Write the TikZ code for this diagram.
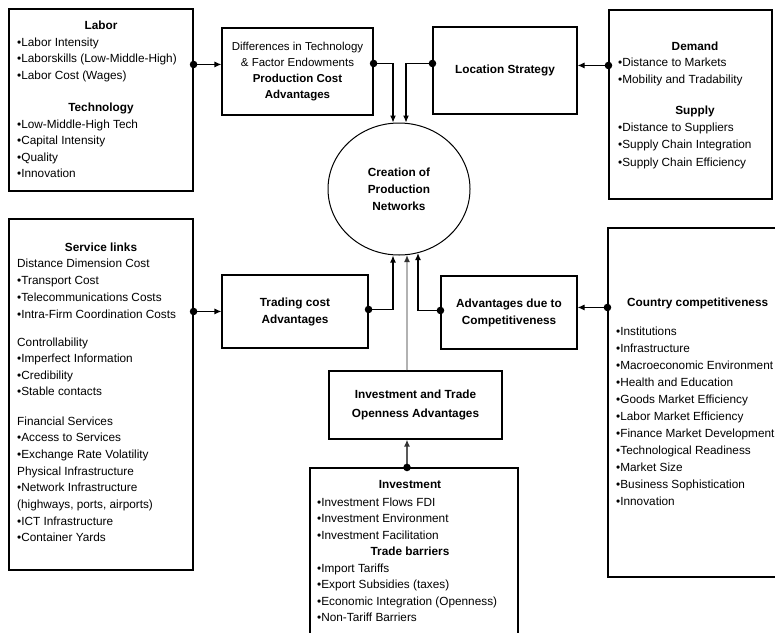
\documentclass[tikz,border=0pt]{standalone}
\usepackage{fontspec}
\setmainfont{Liberation Sans}
\usetikzlibrary{shapes.geometric,arrows.meta,calc}
\newcommand\myfs{\fontsize{11.8}{14}\selectfont}
\begin{document}
\begin{tikzpicture}[x=1pt,y=-1pt,
  every node/.style={font=\myfs},
  rbox/.style={draw=black, line width=1.1pt, inner sep=0, align=center},
  item/.style={inner sep=0, text height=8.5pt, text depth=2.5pt, anchor=west},
  hd/.style={inner sep=0, text height=8.5pt, text depth=2.5pt, font=\myfs\bfseries},
  hdw/.style={hd, anchor=west},
  conn/.style={line width=1.1pt, -{Latex[length=7pt,width=6pt]}},
  gconn/.style={line width=1.8pt, draw=gray!60, -{Latex[length=7pt,width=6pt,color=black!80]}},
  dotc/.style={fill=black}
]
\useasboundingbox (0,0) rectangle (775,632);
\clip (0,0) rectangle (775,632);

% ---------- boxes ----------
\node[rbox, minimum width=184pt, minimum height=182pt] (labor) at (101,100) {};
\node[rbox, minimum width=151pt, minimum height=87pt,
      font={\fontsize{11.5}{15.7}\selectfont}] (diff) at (297.5,71.5)
  {Differences in Technology\\\& Factor Endowments\\\textbf{Production Cost}\\\textbf{Advantages}};
\node[rbox, minimum width=144pt, minimum height=87pt, font=\myfs\bfseries] (loc) at (505,70.5) {Location Strategy};
\node[rbox, minimum width=163pt, minimum height=189pt] (demand) at (690.5,104.5) {};
\node[ellipse, draw=black, line width=1pt, minimum width=142pt, minimum height=132pt, inner sep=0,
      align=center, font={\fontsize{11.8}{17}\selectfont\bfseries}] (circ) at (399,189)
  {Creation of\\Production\\Networks};
\node[rbox, minimum width=184pt, minimum height=351pt] (service) at (101,394.5) {};
\node[rbox, minimum width=146pt, minimum height=73pt, font={\fontsize{11.8}{17}\selectfont\bfseries}] (trading) at (295,311.5)
  {Trading cost\\Advantages};
\node[rbox, minimum width=136pt, minimum height=73pt, font={\fontsize{11.8}{17}\selectfont\bfseries}] (adv) at (509,312.5)
  {Advantages due to\\Competitiveness};
\node[rbox, minimum width=182pt, minimum height=349pt] (country) at (699,402.5) {};
\node[rbox, minimum width=173pt, minimum height=68pt, font={\fontsize{11.8}{19}\selectfont\bfseries}] (open) at (415.5,405)
  {Investment and Trade\\Openness Advantages};
\node[rbox, minimum width=208pt, minimum height=182pt] (invest) at (414,559) {};

% ---------- Labor / Technology ----------
\node[hd] (laborH) at (101,26) {Labor};
\foreach \t [count=\i from 0] in {•Labor Intensity, •Laborskills (Low-Middle-High), •Labor Cost (Wages)}
  \node[item] (labA\i) at (17,43+16.5*\i) {\t};
\node[hd] (techH) at (101,108) {Technology};
\foreach \t [count=\i from 0] in {•Low-Middle-High Tech, •Capital Intensity, •Quality, •Innovation}
  \node[item] (labB\i) at (17,125+16.5*\i) {\t};

% ---------- Demand / Supply ----------
\node[hd] (demH) at (695,47) {Demand};
\foreach \t [count=\i from 0] in {•Distance to Markets, •Mobility and Tradability}
  \node[item] (demA\i) at (618,63+17*\i) {\t};
\node[hd] (supH) at (695,111) {Supply};
\foreach \t [count=\i from 0] in {•Distance to Suppliers, •Supply Chain Integration, •Supply Chain Efficiency}
  \node[item] (supA\i) at (618,128+17.5*\i) {\t};

% ---------- Service links ----------
\node[hd] (serH) at (101,248) {Service links};
\foreach \t [count=\i from 0] in {Distance Dimension Cost, •Transport Cost, •Telecommunications Costs, •Intra-Firm Coordination Costs}
  \node[item] (serA\i) at (17,264+17*\i) {\t};
\foreach \t [count=\i from 0] in {Controllability, •Imperfect Information, •Credibility, •Stable contacts}
  \node[item] (serB\i) at (17,343+16.5*\i) {\t};
\foreach \t [count=\i from 0] in {Financial Services, •Access to Services, •Exchange Rate Volatility, Physical Infrastructure, •Network Infrastructure, {(highways, ports, airports)}, •ICT Infrastructure, •Container Yards}
  \node[item] (serC\i) at (17,422+16.7*\i) {\t};

% ---------- Country competitiveness ----------
\node[hdw] (couH) at (627,303) {Country competitiveness};
\foreach \t [count=\i from 0] in {•Institutions, •Infrastructure, •Macroeconomic Environment, •Health and Education, •Goods Market Efficiency, •Labor Market Efficiency, •Finance Market Development, •Technological Readiness, •Market Size, •Business Sophistication, •Innovation}
  \node[item] (couA\i) at (616,332+17*\i) {\t};

% ---------- Investment / Trade barriers ----------
\node[hd] (invH) at (410,485) {Investment};
\foreach \t [count=\i from 0] in {•Investment Flows FDI, •Investment Environment, •Investment Facilitation}
  \node[item] (invA\i) at (317,503+16.5*\i) {\t};
\node[hd] (traH) at (410,552) {Trade barriers};
\foreach \t [count=\i from 0] in {•Import Tariffs, •Export Subsidies (taxes), •Economic Integration (Openness), •Non-Tariff Barriers}
  \node[item] (traA\i) at (317,569+16.5*\i) {\t};

% ---------- connectors ----------
\coordinate (c1) at ($(labor.north east)+(0,56)$);
\draw[conn] (c1) -- (c1 -| diff.west);
\coordinate (c2) at ($(diff.north east)+(0,36)$);
\draw[conn] (c2) -| ($(circ.north)+(-6,0)$);
\coordinate (c3) at ($(loc.north west)+(0,37)$);
\draw[conn] (c3) -| ($(circ.north)+(7,0)$);
\coordinate (c4) at ($(demand.north west)+(0,56)$);
\draw[conn] (c4) -- (c4 -| loc.east);
\coordinate (c5) at ($(service.north east)+(0,93)$);
\draw[conn] (c5) -- (c5 -| trading.west);
\coordinate (c6) at ($(trading.north east)+(0,35)$);
\draw[conn] (c6) -| ($(circ.south)+(-6,0)$);
\draw[gconn] ($(open.north)+(-8.5,0)$) -- ($(circ.south)+(8,-0.5)$);
\coordinate (c8) at ($(adv.north west)+(0,35)$);
\draw[conn] (c8) -| ($(circ.south)+(19,-2.4)$);
\coordinate (c9) at ($(country.north west)+(0,80)$);
\draw[conn] (c9) -- (c9 -| adv.east);
\coordinate (c10) at ($(invest.north)+(-7,0)$);
\draw[gconn, draw=gray!70!black] (c10) -- (c10 |- open.south);

\foreach \c in {c1,c2,c3,c4,c5,c6,c8,c9,c10}
  \fill[dotc] (\c) circle (3.8pt);
\end{tikzpicture}
\end{document}
